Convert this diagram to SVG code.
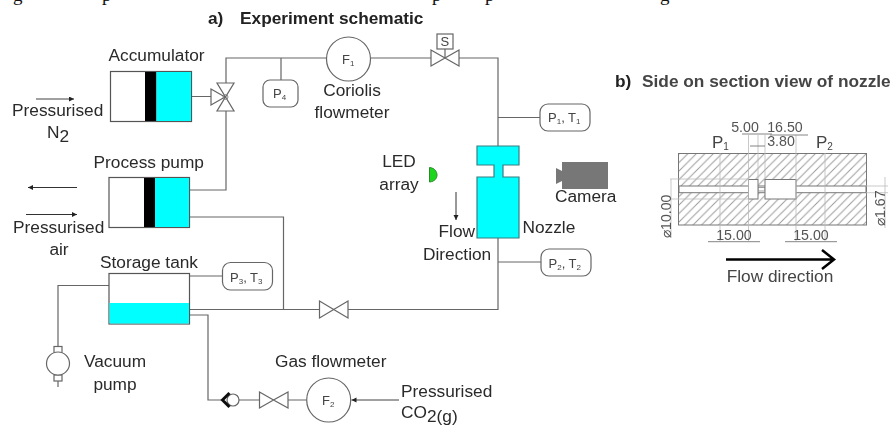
<svg xmlns="http://www.w3.org/2000/svg" width="891" height="425" viewBox="0 0 891 425">
<style>
text{font-family:"Liberation Sans",Arial,sans-serif;fill:#2a2a2a}
.l{font-size:17.300px}
.s{font-size:13px;fill:#444}
.t{font-weight:bold;font-size:17.300px;fill:#222}
.p{fill:none;stroke:#666;stroke-width:1.2}
.v{fill:#fff;stroke:#666;stroke-width:1.2}
.box{fill:#fff;stroke:#555;stroke-width:1.2}
.cy{fill:#00ffff;stroke:#3a7f80;stroke-width:1.2}
.d{font-size:14.200px;fill:#555}
.e{fill:none;stroke:#bbb;stroke-width:.8}
.dk{fill:none;stroke:#777;stroke-width:.9}
.top{font-family:"Liberation Serif",serif;font-size:19px;fill:#111}
</style>
<defs>
<marker id="ah" markerWidth="6" markerHeight="6" refX="5" refY="2.5" orient="auto" markerUnits="userSpaceOnUse"><path d="M0 0L5 2.500L0 5z" fill="#222"/></marker>
<pattern id="hatch" width="8.500" height="8.500" patternUnits="userSpaceOnUse"><path d="M-1 9.500L9.500 -1M-1 1L1 -1M7.500 9.500L9.500 7.500" stroke="#999" stroke-width="1" fill="none"/></pattern>
<filter id="b1" x="-2%" y="-2%" width="104%" height="104%"><feGaussianBlur stdDeviation=".35"/></filter>
<filter id="b2" x="-5%" y="-5%" width="110%" height="110%"><feGaussianBlur stdDeviation=".55"/></filter>
</defs>
<g id="cut-line">
<text class="top" x="13" y="1">g</text>
<text class="top" x="102" y="1">p</text>
<text class="top" x="432" y="1">p</text>
<text class="top" x="485" y="1">p</text>
<text class="top" x="660" y="1">g</text>
</g>
<g filter="url(#b1)">
<g id="connectors">
<path class="p" d="M191 96.500H211M226 83V58H327M281 58V80M371 58H431M445 49V58M459 58H498V146M498 117.500H540M498 238V309.500H348M498 262H541M319.500 309.500H189.500M189.500 190H226V111M189.500 217H283.500V309.500M189.500 276H222.500M109 285.500H58V346.500M58 381V387M189.500 315H208V400H222M239 400H259.500M288 400H306.500"/>
<path d="M399 400H351.500" fill="none" stroke="#444" stroke-width="1" marker-end="url(#ah)"/>
<path d="M36 99H74" fill="none" stroke="#444" stroke-width="1" marker-end="url(#ah)"/>
<path d="M77 187.500H28" fill="none" stroke="#333" stroke-width="1" marker-end="url(#ah)"/>
<path d="M26 214.500H77" fill="none" stroke="#333" stroke-width="1" marker-end="url(#ah)"/>
<path d="M456 192V220" fill="none" stroke="#333" stroke-width="1" marker-end="url(#ah)"/>
</g>
<g id="accumulator">
<rect class="box" x="110.500" y="71.500" width="81" height="50"/>
<rect x="145" y="72" width="11.500" height="49" fill="#000"/>
<rect x="156.500" y="72" width="34.500" height="49" fill="#00ffff"/>
<text class="l" x="108.500" y="61">Accumulator</text>
<text class="l" x="12" y="115.500">Pressurised</text>
<text class="l" x="47" y="138">N<tspan dy="4">2</tspan></text>
</g>
<g id="valve3">
<path class="v" d="M211 89V105L225 97zM217 83H234L225.500 97zM217 111H234L225.500 97z"/>
<circle cx="225.500" cy="97" r="2.500" fill="none" stroke="#888"/>
</g>
<g id="p4"><rect class="v" x="263" y="80" width="35" height="27" rx="7"/><text class="s" x="273" y="98">P<tspan font-size="8" dy="2">4</tspan></text></g>
<g id="f1"><circle class="v" cx="348.500" cy="59" r="22"/><text class="s" x="342" y="64">F<tspan font-size="8" dy="2">1</tspan></text>
<text class="l" x="352" y="96" text-anchor="middle">Coriolis</text><text class="l" x="352" y="117.500" text-anchor="middle">flowmeter</text></g>
<g id="solenoid-valve"><path class="v" d="M431 50V66L445 58zM459 50V66L445 58z"/><rect class="v" x="437" y="34" width="16" height="15"/><text class="s" x="440.500" y="46">S</text></g>
<g id="p1t1"><rect class="v" x="540" y="104" width="50" height="27" rx="8"/><text class="s" x="548" y="121.500">P<tspan font-size="8" dy="2">1</tspan><tspan dy="-2">, T</tspan><tspan font-size="8" dy="2">1</tspan></text></g>
<g id="p2t2"><rect class="v" x="541" y="249" width="50" height="27" rx="8"/><text class="s" x="548.500" y="268">P<tspan font-size="8" dy="2">2</tspan><tspan dy="-2">, T</tspan><tspan font-size="8" dy="2">2</tspan></text></g>
<g id="nozzle">
<path class="cy" d="M477 146H519V165H503V177H519V238H477V177H494V165H477z"/>
<text class="l" x="522.500" y="233">Nozzle</text>
<text class="l" x="438.500" y="237">Flow</text><text class="l" x="423" y="260">Direction</text>
</g>
<g id="led"><path d="M429.500 167.500C435 168 437 172 437 175C437 178 435 181.500 429.500 182z" fill="#1fd61f" stroke="#2a8a2a"/><text class="l" x="399" y="167" text-anchor="middle">LED</text><text class="l" x="399" y="190" text-anchor="middle">array</text></g>
<g id="camera"><rect x="562" y="162" width="46" height="27" fill="#777"/><path d="M556 168L562 171V181L556 184z" fill="#777"/><text class="l" x="555" y="202">Camera</text></g>
<g id="process-pump">
<rect class="box" x="109" y="177.500" width="80.500" height="50"/>
<rect x="144" y="178" width="11" height="49" fill="#000"/>
<rect x="155" y="178" width="34" height="49" fill="#00ffff"/>
<text class="l" x="93.500" y="168">Process pump</text>
<text class="l" x="13" y="233">Pressurised</text>
<text class="l" x="59" y="255" text-anchor="middle">air</text>
</g>
<g id="storage-tank">
<rect class="box" x="109" y="273.500" width="80.500" height="50.500"/>
<rect x="109.500" y="303" width="79.500" height="20.500" fill="#00ffff"/>
<text class="l" x="100" y="268">Storage tank</text>
</g>
<g id="p3t3"><rect class="v" x="222.500" y="262.500" width="50" height="27.500" rx="8"/><text class="s" x="230" y="281.700">P<tspan font-size="8" dy="2">3</tspan><tspan dy="-2">, T</tspan><tspan font-size="8" dy="2">3</tspan></text></g>
<g id="valve2"><path class="v" d="M319.500 301V318L333.700 309.500zM348 301V318L333.700 309.500z"/></g>
<g id="vacuum-pump">
<rect class="v" x="54" y="346.500" width="8" height="6.500"/><rect class="v" x="54" y="375" width="8" height="6"/><circle class="v" cx="58" cy="363.500" r="11.500"/>
<text class="l" x="115" y="367" text-anchor="middle">Vacuum</text><text class="l" x="115" y="390" text-anchor="middle">pump</text>
</g>
<g id="check-valve"><circle class="v" cx="233" cy="400" r="6"/><path d="M229.500 393L222.500 400L229.500 407" fill="none" stroke="#111" stroke-width="3"/></g>
<g id="valve1"><path class="v" d="M259.500 392V408L273.500 400zM288 392V408L273.500 400z"/></g>
<g id="f2"><circle class="v" cx="328.700" cy="400" r="22"/><text class="s" x="322" y="405">F<tspan font-size="8" dy="2">2</tspan></text>
<text class="l" x="275" y="367">Gas flowmeter</text>
<text class="l" x="401" y="397">Pressurised</text>
<text class="l" x="401" y="418">CO<tspan dy="4">2(g)</tspan></text>
</g>
<text class="t" x="208" y="24">a)</text>
<text class="t" x="240" y="24">Experiment schematic</text>
</g>
<g id="section-view" filter="url(#b2)">
<text class="t" x="615" y="87">b)</text>
<text class="t" x="642" y="87" style="fill:#444">Side on section view of nozzle</text>
<rect x="678.500" y="153.500" width="188" height="71.500" fill="url(#hatch)" stroke="#777"/>
<rect x="679" y="186" width="187" height="6.700" fill="#fff" stroke="#777"/>
<rect x="758" y="187.500" width="7" height="3.500" fill="#fff" stroke="#888" stroke-width=".8"/>
<rect x="748.500" y="179.500" width="9.500" height="19.500" fill="#fff" stroke="#777"/>
<rect x="765" y="179.500" width="31" height="19.500" fill="#fff" stroke="#777"/>
<path class="e" d="M720 153V241M748.500 135V241M758 135V179M765 135V179M796 135V241M825 153V241M670 179H748M670 199H748M885 177V228M866 186H888M866 192.700H888M671 179V238"/>
<path class="dk" d="M708 241.700H760M785 241.700H837M742 134H772M770 135H808M750 146H765"/>
<text class="d" x="745" y="131.700" text-anchor="middle">5.00</text>
<text class="d" x="785" y="131.700" text-anchor="middle">16.50</text>
<text class="d" x="781" y="146" text-anchor="middle">3.80</text>
<text x="712" y="148" style="font-size:17px;fill:#444">P<tspan font-size="10" dy="2">1</tspan></text>
<text x="816" y="148" style="font-size:17px;fill:#444">P<tspan font-size="10" dy="2">2</tspan></text>
<text class="d" transform="translate(670.500 238) rotate(-90)">⌀10.00</text>
<text class="d" transform="translate(884.500 226) rotate(-90)">⌀1.67</text>
<text class="d" x="734" y="240" text-anchor="middle">15.00</text>
<text class="d" x="811" y="240" text-anchor="middle">15.00</text>
<path d="M726 259.500H833M822 250L834 259.500L822 269" fill="none" stroke="#000" stroke-width="2.500"/>
<text x="780" y="281.700" text-anchor="middle" style="font-size:17.300px;fill:#444">Flow direction</text>
</g>
</svg>
